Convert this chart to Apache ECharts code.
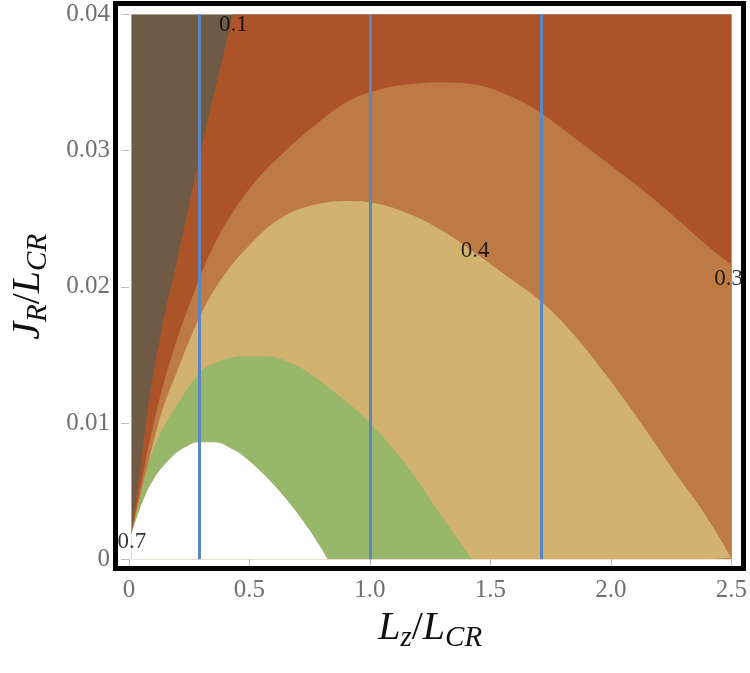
<!DOCTYPE html>
<html>
<head>
<meta charset="utf-8">
<script src="https://cdn.jsdelivr.net/npm/echarts@6/dist/echarts.min.js"></script>
<style>
html, body { margin: 0; padding: 0; background: #fff; }
#chart { width: 750px; height: 673px; }
</style>
</head>
<body>
<div id="chart"></div>
<script>
// axis ticks
const xTicks = [0, 0.5, 1.0, 1.5, 2.0, 2.5];
const yTicks = [0, 0.01, 0.02, 0.03, 0.04];

// plotted domain (top edge)
const domainTop = [[0.01, 0.04], [2.5, 0.04]];

// contour 0.1 (dark / rust edge), then along the top edge
const edge01 = [[0.01, 0.0018], [0.027, 0.0041], [0.047, 0.0066], [0.063, 0.009], [0.081, 0.0115],
  [0.104, 0.0139], [0.129, 0.0163], [0.157, 0.0188], [0.185, 0.0208], [0.242, 0.0254], [0.301, 0.0303],
  [0.367, 0.0352], [0.432, 0.04], [2.5, 0.04]];

// contour 0.3
const edge03 = [[0.01, 0.0018], [0.062, 0.0066], [0.116, 0.011], [0.186, 0.0154], [0.281, 0.0201],
  [0.343, 0.0227], [0.425, 0.0253], [0.528, 0.0278], [0.632, 0.0297], [0.768, 0.0318], [0.908, 0.0336],
  [1.044, 0.0345], [1.18, 0.0349], [1.292, 0.035], [1.416, 0.0349], [1.568, 0.0341], [1.705, 0.0328],
  [1.911, 0.0301], [2.117, 0.0273], [2.253, 0.0253], [2.394, 0.0231], [2.5, 0.0216]];

// contour 0.4
const edge04 = [[0.01, 0.0018], [0.04, 0.0041], [0.074, 0.0066], [0.107, 0.009], [0.149, 0.0115],
  [0.202, 0.0139], [0.256, 0.0163], [0.322, 0.0188], [0.409, 0.0212], [0.508, 0.0232], [0.618, 0.0249],
  [0.742, 0.0259], [0.907, 0.0263], [0.999, 0.0262], [1.156, 0.0254], [1.292, 0.0242], [1.428, 0.0226],
  [1.568, 0.0208], [1.705, 0.019], [1.841, 0.0166], [1.981, 0.0135], [2.117, 0.0102], [2.253, 0.0067],
  [2.394, 0.0032], [2.5, 0.0001]];

// contour 0.5 (tan / green edge)
const edge05 = [[0.01, 0.0018], [0.041, 0.0041], [0.074, 0.0066], [0.124, 0.009], [0.206, 0.0115],
  [0.293, 0.0137], [0.355, 0.0144], [0.425, 0.0148], [0.495, 0.0149], [0.561, 0.0149], [0.673, 0.0144],
  [0.768, 0.0134], [0.879, 0.0119], [0.995, 0.0101], [1.156, 0.0068], [1.292, 0.0033], [1.424, 0]];

// contour 0.7 (green / white edge)
const edge07 = [[0.01, 0.0018], [0.054, 0.0041], [0.107, 0.006], [0.178, 0.0075], [0.231, 0.0082],
  [0.289, 0.0086], [0.355, 0.0086], [0.438, 0.008], [0.479, 0.0075], [0.549, 0.0064], [0.644, 0.0046],
  [0.743, 0.0023], [0.825, 0]];

// vertical cuts
const cuts = [0.295, 1.0, 1.705];

// contour labels [x, y, text]
const contourLabels = [[0.433, 0.0392, '0.1'], [1.436, 0.0226, '0.4'], [2.489, 0.0206, '0.3'], [0.012, 0.0013, '0.7']];

const serif = '"Liberation Serif", "DejaVu Serif", serif';

function band(data, color, z, smooth) {
  return {
    type: 'line', data: data, symbol: 'none', smooth: smooth, z: z,
    lineStyle: { width: 0 },
    areaStyle: { color: color, opacity: 1, origin: 'start' },
    silent: true
  };
}

const nameRich = {
  i: { fontFamily: serif, fontStyle: 'italic', fontSize: 40, color: '#111', lineHeight: 50 },
  n: { fontFamily: serif, fontSize: 40, color: '#111', lineHeight: 50 },
  s: { fontFamily: serif, fontStyle: 'italic', fontSize: 29, color: '#111', verticalAlign: 'bottom', lineHeight: 34 }
};

const chart = echarts.init(document.getElementById('chart'));
chart.setOption({
  animation: false,
  backgroundColor: '#fff',
  grid: { left: 127, right: 17.3, top: 14.3, bottom: 113.7 },
  xAxis: {
    type: 'value', min: 0, max: 2.5, interval: 0.5,
    axisLine: { show: false },
    axisTick: { show: true, length: 8, lineStyle: { color: '#bbb', width: 1 } },
    splitLine: { show: false },
    axisLabel: {
      margin: 19, color: '#707070', fontFamily: serif, fontSize: 25,
      formatter: v => xTicks.includes(v) ? (v === 0 ? '0' : v.toFixed(1)) : ''
    },
    name: '{i|L}{s|z}{n|/}{i|L}{s|CR}',
    nameLocation: 'middle', nameGap: 40,
    nameTextStyle: { rich: nameRich }
  },
  yAxis: {
    type: 'value', min: 0, max: 0.04, interval: 0.01,
    axisLine: { show: false },
    axisTick: { show: true, length: 8, lineStyle: { color: '#bbb', width: 1 } },
    splitLine: { show: false },
    axisLabel: {
      margin: 19, color: '#707070', fontFamily: serif, fontSize: 25,
      formatter: v => yTicks.includes(v) ? (v === 0 ? '0' : v.toFixed(2)) : ''
    },
    name: '{i|J}{s|R}{n|/}{i|L}{s|CR}',
    nameLocation: 'middle', nameGap: 76, nameRotate: 90,
    nameTextStyle: { rich: nameRich }
  },
  series: [
    band(domainTop, '#6f5b45', 1, false),
    band(edge01, '#ad532a', 2, false),
    band(edge03, '#bd7a44', 3, 0.4),
    band(edge04, '#d1b26f', 4, 0.4),
    band(edge05, '#99b76a', 5, 0.4),
    band(edge07, '#ffffff', 6, 0.4),
    {
      type: 'line', data: [], z: 20, silent: true,
      markLine: {
        symbol: 'none', silent: true, animation: false, z: 20,
        label: { show: false },
        lineStyle: { color: '#5b87c5', width: 3, type: 'solid' },
        data: cuts.map(c => ({ xAxis: c }))
      }
    },
    {
      type: 'scatter', data: contourLabels, symbolSize: 0, z: 30, silent: true, clip: false,
      label: {
        show: true, position: 'inside', color: '#000', fontFamily: serif, fontSize: 23,
        formatter: p => p.data[2]
      }
    }
  ],
  graphic: [{
    type: 'rect', z: 100, silent: true,
    shape: { x: 115.5, y: 3.5, width: 628, height: 565 },
    style: { fill: 'none', stroke: '#000', lineWidth: 5 }
  }]
});
</script>
</body>
</html>
